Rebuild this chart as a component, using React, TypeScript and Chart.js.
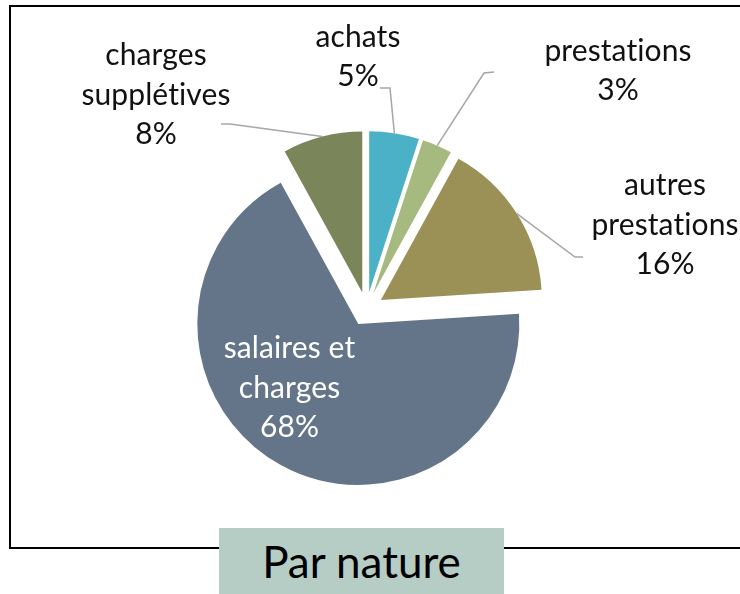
import React, { useEffect, useRef } from "react";
import { Chart, registerables, ArcElement, PieController } from "chart.js";

Chart.register(...registerables);

// ---- data ----
const categories = ["achats", "prestations", "autres prestations", "salaires et charges", "charges supplétives"];
const labelLines = [["achats"], ["prestations"], ["autres", "prestations"], ["salaires et", "charges"], ["charges", "supplétives"]];
const values = [5, 3, 16, 68, 8];
const colors = ["#4bb1c6", "#a6b97e", "#9b9156", "#647589", "#7a855a"];
const textColors = ["#111", "#111", "#111", "#ffffff", "#111"];

// ---- layout (relative to pie centre) ----
const EXPLODE = 17;
const RADIUS = 161;
const FONT = "30px Lato";
const LINE_H = 39.5;
const labelAnchors: [number, number][] = [
  [-8.5, -262.3],
  [251.5, -248.4],
  [298.5, -114],
  [-77, 49.3],
  [-210.5, -244],
];
const leaders: ([number, number][] | null)[] = [
  [[23.5, -221], [13.5, -221]],
  [[117.5, -236], [127.5, -237]],
  [[208.5, -52], [216.5, -52]],
  null,
  [[-136.5, -185], [-145.5, -185]],
];

class ExplodedArc extends ArcElement {
  static id = "explodedArc";
  draw(ctx: CanvasRenderingContext2D) {
    const half = ((this as any).startAngle + (this as any).endAngle) / 2;
    ctx.save();
    ctx.translate(Math.cos(half) * EXPLODE, Math.sin(half) * EXPLODE);
    super.draw(ctx);
    ctx.restore();
  }
}

class ExplodedPieController extends PieController {
  static id = "explodedPie";
  static defaults = { ...(PieController as any).defaults, dataElementType: "explodedArc" };
}

Chart.register(ExplodedArc as any, ExplodedPieController as any);

const labelPlugin = {
  id: "sliceLabels",
  afterDatasetsDraw(chart: any) {
    const ctx: CanvasRenderingContext2D = chart.ctx;
    const meta = chart.getDatasetMeta(0);
    const total = values.reduce((a, b) => a + b, 0);
    meta.data.forEach((arc: any, i: number) => {
      const { x, y, startAngle, endAngle, outerRadius } = arc.getProps(
        ["x", "y", "startAngle", "endAngle", "outerRadius"],
        true
      );
      const mid = (startAngle + endAngle) / 2;
      const ox = x + Math.cos(mid) * EXPLODE;
      const oy = y + Math.sin(mid) * EXPLODE;
      const ax = ox + Math.cos(mid) * outerRadius;
      const ay = oy + Math.sin(mid) * outerRadius;
      const L = leaders[i];
      ctx.save();
      if (L) {
        ctx.beginPath();
        ctx.moveTo(ax, ay);
        L.forEach(([dx, dy]) => ctx.lineTo(x + dx, y + dy));
        ctx.strokeStyle = "#a6a6a6";
        ctx.lineWidth = 1.5;
        ctx.stroke();
      }
      const lines = [...labelLines[i], Math.round((values[i] / total) * 100) + "%"];
      ctx.font = FONT;
      (ctx as any).letterSpacing = "0.1px";
      ctx.fillStyle = textColors[i];
      ctx.textAlign = "center";
      ctx.textBaseline = "alphabetic";
      const [lx, ly] = labelAnchors[i];
      lines.forEach((t, k) => ctx.fillText(t, x + lx, y + ly + k * LINE_H));
      ctx.restore();
    });
  },
};

export default function App() {
  const ref = useRef<HTMLCanvasElement>(null);
  useEffect(() => {
    if (!ref.current) return;
    const chart = new Chart(ref.current, {
      type: "explodedPie" as any,
      data: {
        labels: categories,
        datasets: [{ data: values, backgroundColor: colors, borderWidth: 0 }],
      },
      options: {
        animation: false,
        responsive: false,
        maintainAspectRatio: false,
        radius: RADIUS,
        cutout: 0,
        layout: { padding: { left: 0, right: 7, top: 24, bottom: 0 } },
        plugins: { legend: { display: false }, tooltip: { enabled: false }, title: { display: false } },
      } as any,
      plugins: [labelPlugin],
    });
    return () => chart.destroy();
  }, []);
  return (
    <div style={{ position: "fixed", left: 0, top: 0, width: 740, height: 594, background: "#fff", overflow: "hidden" }}>
      <div
        style={{
          position: "absolute",
          left: 9,
          top: 5,
          width: 760,
          height: 544,
          boxSizing: "border-box",
          border: "2px solid #000",
        }}
      />
      <canvas ref={ref} width={740} height={594} style={{ position: "absolute", left: 0, top: 0 }} />
      <div
        style={{
          position: "absolute",
          left: 219,
          top: 528,
          width: 285,
          height: 70,
          background: "#b5cdc4",
          fontFamily: "Lato",
          fontSize: 44,
          lineHeight: "66px",
          textAlign: "center",
          color: "#000",
        }}
      >
        Par nature
      </div>
    </div>
  );
}
